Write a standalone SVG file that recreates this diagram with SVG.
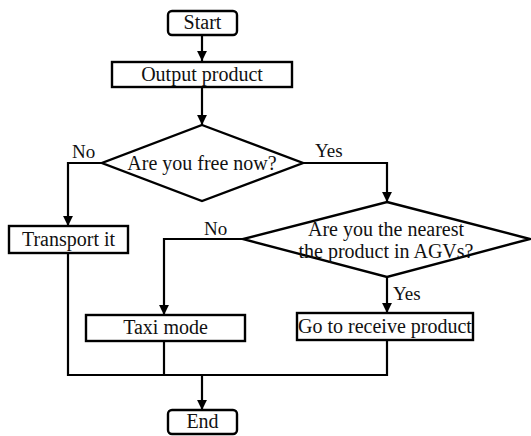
<svg xmlns="http://www.w3.org/2000/svg" width="531" height="436" viewBox="0 0 531 436">
<defs>
<marker id="ah" viewBox="0 0 10 10" refX="10" refY="5" markerWidth="4.5" markerHeight="4.5" orient="auto" markerUnits="strokeWidth">
<path d="M0,0 L10,5 L0,10 z" fill="#000"/>
</marker>
</defs>
<style>
.box{fill:#fff;stroke:#000;stroke-width:2.4}
.ln{fill:none;stroke:#000;stroke-width:2.2}
.t{font-family:"Liberation Serif","Times New Roman",serif;font-size:20px;fill:#111;text-anchor:middle}
.lb{font-family:"Liberation Serif","Times New Roman",serif;font-size:19px;fill:#111}
</style>
<rect width="531" height="436" fill="#fff"/>
<g id="connectors">
<path class="ln" d="M202,35 V61" marker-end="url(#ah)"/>
<path class="ln" d="M202,87 V125" marker-end="url(#ah)"/>
<path class="ln" d="M102,163 H68 V226" marker-end="url(#ah)"/>
<path class="ln" d="M303,163 H387 V202" marker-end="url(#ah)"/>
<path class="ln" d="M243,239 H164 V315" marker-end="url(#ah)"/>
<path class="ln" d="M387,277 V313" marker-end="url(#ah)"/>
<path class="ln" d="M68,253 V375 H387 V340"/>
<path class="ln" d="M164,341 V375"/>
<path class="ln" d="M202,375 V410" marker-end="url(#ah)"/>
<text class="lb" x="72" y="158">No</text>
<text class="lb" x="315" y="157">Yes</text>
<text class="lb" x="204" y="235">No</text>
<text class="lb" x="393" y="300">Yes</text>
</g>
<g id="start">
<rect class="box" x="168" y="11" width="69" height="24" rx="4"/>
<text class="t" x="202.5" y="29">Start</text>
</g>
<g id="output">
<rect class="box" x="112" y="62" width="180" height="25"/>
<text class="t" x="202" y="81">Output product</text>
</g>
<g id="free">
<polygon class="box" points="202,125 303,163 202,201 102,163"/>
<text class="t" x="202" y="170">Are you free now?</text>
</g>
<g id="transport">
<rect class="box" x="9" y="226" width="119" height="27"/>
<text class="t" x="68.5" y="246">Transport it</text>
</g>
<g id="nearest">
<polygon class="box" points="387,202 530,239 387,277 243,239"/>
<text class="t" x="386" y="236">Are you the nearest</text>
<text class="t" x="386" y="258">the product in AGVs?</text>
</g>
<g id="taxi">
<rect class="box" x="86" y="315" width="159" height="26"/>
<text class="t" x="165.5" y="334">Taxi mode</text>
</g>
<g id="receive">
<rect class="box" x="297" y="313" width="176" height="27"/>
<text class="t" x="385" y="333">Go to receive product</text>
</g>
<g id="end">
<rect class="box" x="168" y="410" width="69" height="24" rx="4"/>
<text class="t" x="202.5" y="428">End</text>
</g>
</svg>
